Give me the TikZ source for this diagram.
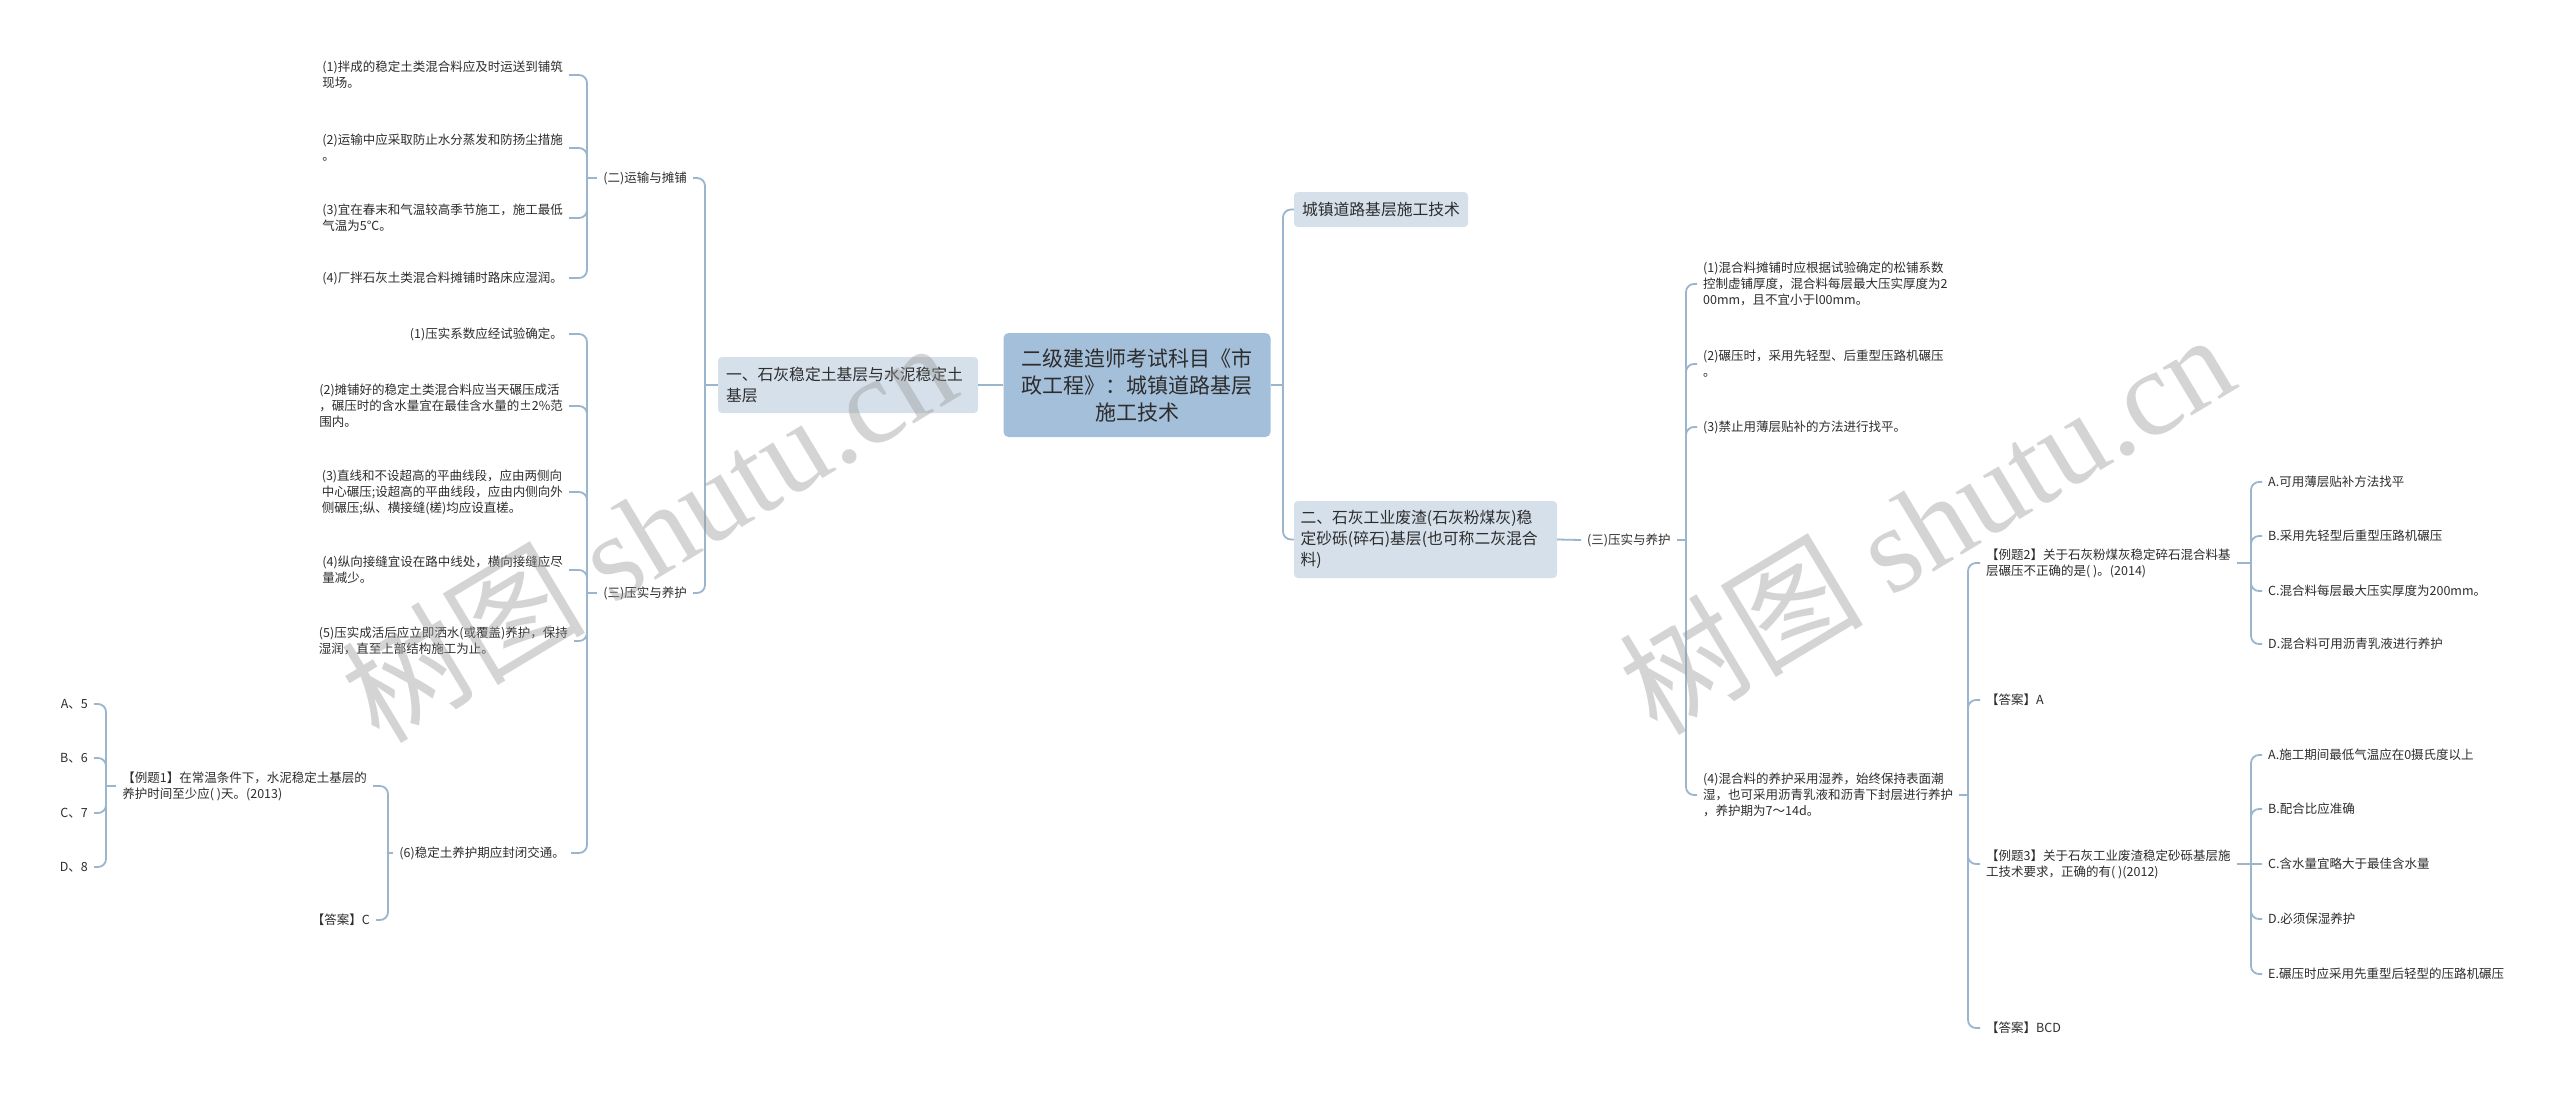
\documentclass[tikz,border=0pt]{standalone}
\usepackage{fontspec}
\setmainfont{Noto Sans CJK SC}
\newfontfamily\wmlatin{Liberation Serif}
\definecolor{lc}{RGB}{155,181,205}
\definecolor{rootfill}{RGB}{164,191,218}
\definecolor{subfill}{RGB}{213,224,234}
\definecolor{tc}{RGB}{45,45,45}
\tikzset{
  conn/.style={draw=lc, line width=1.8pt, rounded corners=8pt},
  small/.style={font=\fontsize{12.5}{16}\selectfont, text=tc, inner xsep=6pt, inner ysep=2pt, align=left},
  subbox/.style={fill=subfill, rounded corners=4pt, font=\fontsize{15.8}{21}\selectfont, text=tc, inner xsep=8pt, align=left},
  rootbox/.style={fill=rootfill, rounded corners=5pt, font=\fontsize{21}{27}\selectfont, text=tc, align=center, minimum width=267pt, minimum height=104pt},
  wm/.style={text=black!40, opacity=0.42, font=\fontsize{122}{122}\selectfont, inner sep=0pt}
}
\begin{document}
\begin{tikzpicture}[x=1pt,y=-1pt]
\path[use as bounding box, fill=white] (0,0) rectangle (2560,1095);

% ---------- main nodes ----------
\node[rootbox] (root) at (1137,385) {二级建造师考试科目《市\\政工程》：城镇道路基层\\施工技术};
\node[subbox, text width=244pt, minimum height=56pt] (L1) at (848,385) {一、石灰稳定土基层与水泥稳定土\\基层};
\node[subbox, minimum height=35pt] (R1) at (1381,209.5) {城镇道路基层施工技术};
\node[subbox, inner xsep=6.5pt, text width=250pt, minimum height=77pt] (R2) at (1425.5,539.5) {二、石灰工业废渣(石灰粉煤灰)稳\\定砂砾(碎石)基层(也可称二灰混合\\料)};

% ---------- left side ----------
\node[small, anchor=east] (n2) at (693,178) {(二)运输与摊铺};
\node[small, anchor=east] (n3) at (693,593) {(三)压实与养护};

\node[small, anchor=east] (a1) at (569,75) {(1)拌成的稳定土类混合料应及时运送到铺筑\\现场。};
\node[small, anchor=east] (a2) at (569,148) {(2)运输中应采取防止水分蒸发和防扬尘措施\\。};
\node[small, anchor=east] (a3) at (569,218) {(3)宜在春末和气温较高季节施工，施工最低\\气温为5℃。};
\node[small, anchor=east] (a4) at (569,278) {(4)厂拌石灰土类混合料摊铺时路床应湿润。};

\node[small, anchor=east] (d1) at (569,334) {(1)压实系数应经试验确定。};
\node[small, anchor=east] (d2) at (569,406) {(2)摊铺好的稳定土类混合料应当天碾压成活\\，碾压时的含水量宜在最佳含水量的±2\%范\\围内。};
\node[small, anchor=east] (d3) at (569,492) {(3)直线和不设超高的平曲线段，应由两侧向\\中心碾压;设超高的平曲线段，应由内侧向外\\侧碾压;纵、横接缝(槎)均应设直槎。};
\node[small, anchor=east] (d4) at (569,570) {(4)纵向接缝宜设在路中线处，横向接缝应尽\\量减少。};
\node[small, anchor=east] (d5) at (574,641) {(5)压实成活后应立即洒水(或覆盖)养护，保持\\湿润，直至上部结构施工为止。};
\node[small, anchor=east] (d6) at (571,853) {(6)稳定土养护期应封闭交通。};

\node[small, anchor=east] (e1) at (373,786) {【例题1】在常温条件下，水泥稳定土基层的\\养护时间至少应( )天。(2013)};
\node[small, anchor=east] (e2) at (376,920) {【答案】C};

\node[small, anchor=east] (o1) at (94,704) {A、5};
\node[small, anchor=east] (o2) at (94,758) {B、6};
\node[small, anchor=east] (o3) at (94,813) {C、7};
\node[small, anchor=east] (o4) at (94,867) {D、8};

% ---------- right side ----------
\node[small, anchor=west] (m3) at (1581,540) {(三)压实与养护};

\node[small, anchor=west] (f1) at (1697,284) {(1)混合料摊铺时应根据试验确定的松铺系数\\控制虚铺厚度，混合料每层最大压实厚度为2\\00mm，且不宜小于l00mm。};
\node[small, anchor=west] (f2) at (1697,364) {(2)碾压时，采用先轻型、后重型压路机碾压\\。};
\node[small, anchor=west] (f3) at (1697,427) {(3)禁止用薄层贴补的方法进行找平。};
\node[small, anchor=west] (f4) at (1697,795) {(4)混合料的养护采用湿养，始终保持表面潮\\湿，也可采用沥青乳液和沥青下封层进行养护\\，养护期为7～14d。};

\node[small, anchor=west] (g1) at (1980,563) {【例题2】关于石灰粉煤灰稳定碎石混合料基\\层碾压不正确的是( )。(2014)};
\node[small, anchor=west] (g2) at (1980,700) {【答案】A};
\node[small, anchor=west] (g3) at (1980,864) {【例题3】关于石灰工业废渣稳定砂砾基层施\\工技术要求，正确的有( )(2012)};
\node[small, anchor=west] (g4) at (1980,1028) {【答案】BCD};

\node[small, anchor=west] (h1) at (2262,482) {A.可用薄层贴补方法找平};
\node[small, anchor=west] (h2) at (2262,536) {B.采用先轻型后重型压路机碾压};
\node[small, anchor=west] (h3) at (2262,591) {C.混合料每层最大压实厚度为200mm。};
\node[small, anchor=west] (h4) at (2262,644) {D.混合料可用沥青乳液进行养护};

\node[small, anchor=west] (i1) at (2262,755) {A.施工期间最低气温应在0摄氏度以上};
\node[small, anchor=west] (i2) at (2262,809) {B.配合比应准确};
\node[small, anchor=west] (i3) at (2262,864) {C.含水量宜略大于最佳含水量};
\node[small, anchor=west] (i4) at (2262,919) {D.必须保湿养护};
\node[small, anchor=west] (i5) at (2262,974) {E.碾压时应采用先重型后轻型的压路机碾压};

% ---------- bar positions ----------
\coordinate (xA) at (705,0);
\coordinate (xB) at (587,0);
\coordinate (xD) at (388,0);
\coordinate (xE) at (106,0);
\coordinate (xR) at (1283,0);
\coordinate (xM) at (1686,0);
\coordinate (xF) at (1968,0);
\coordinate (xG) at (2251,0);

\coordinate (jA) at (L1.west -| xA);
\coordinate (jB) at (n2.west -| xB);
\coordinate (jC) at (n3.west -| xB);
\coordinate (jD) at (d6.west -| xD);
\coordinate (jE) at (e1.west -| xE);
\coordinate (jR) at (root.east -| xR);
\coordinate (jM) at (m3.east -| xM);
\coordinate (jF) at (f4.east -| xF);
\coordinate (jG1) at (g1.east -| xG);
\coordinate (jG3) at (g3.east -| xG);

% ---------- connectors ----------
\draw[conn] (root.west) -- (L1.east);
\draw[conn] (root.east) -- (jR);
\draw[conn] (jR) |- (R1.west);
\draw[conn] (jR) |- (R2.west);

\draw[conn] (L1.west) -- (jA);
\draw[conn] (jA) |- (n2.east);
\draw[conn] (jA) |- (n3.east);

\draw[conn] (n2.west) -- (jB);
\foreach \c in {a1,a2,a3,a4} \draw[conn] (jB) |- (\c.east);

\draw[conn] (n3.west) -- (jC);
\foreach \c in {d1,d2,d3,d4,d5,d6} \draw[conn] (jC) |- (\c.east);

\draw[conn] (d6.west) -- (jD);
\draw[conn] (jD) |- (e1.east);
\draw[conn] (jD) |- (e2.east);

\draw[conn] (e1.west) -- (jE);
\foreach \c in {o1,o2,o3,o4} \draw[conn] (jE) |- (\c.east);

\draw[conn] (R2.east) -- (m3.west);
\draw[conn] (m3.east) -- (jM);
\foreach \c in {f1,f2,f3,f4} \draw[conn] (jM) |- (\c.west);

\draw[conn] (f4.east) -- (jF);
\foreach \c in {g1,g2,g3,g4} \draw[conn] (jF) |- (\c.west);

\draw[conn] (g1.east) -- (jG1);
\foreach \c in {h1,h2,h3,h4} \draw[conn] (jG1) |- (\c.west);

\draw[conn] (g3.east) -- (jG3);
\foreach \c in {i1,i2,i4,i5} \draw[conn] (jG3) |- (\c.west);
\draw[conn] (jG3) -- (i3.west);

% ---------- watermark ----------
\node[wm, rotate=31] (w1) at (648,530) {树图 {\wmlatin shutu.cn}};
\node[wm, rotate=31] (w2) at (1926,522) {树图 {\wmlatin shutu.cn}};
\end{tikzpicture}
\end{document}
